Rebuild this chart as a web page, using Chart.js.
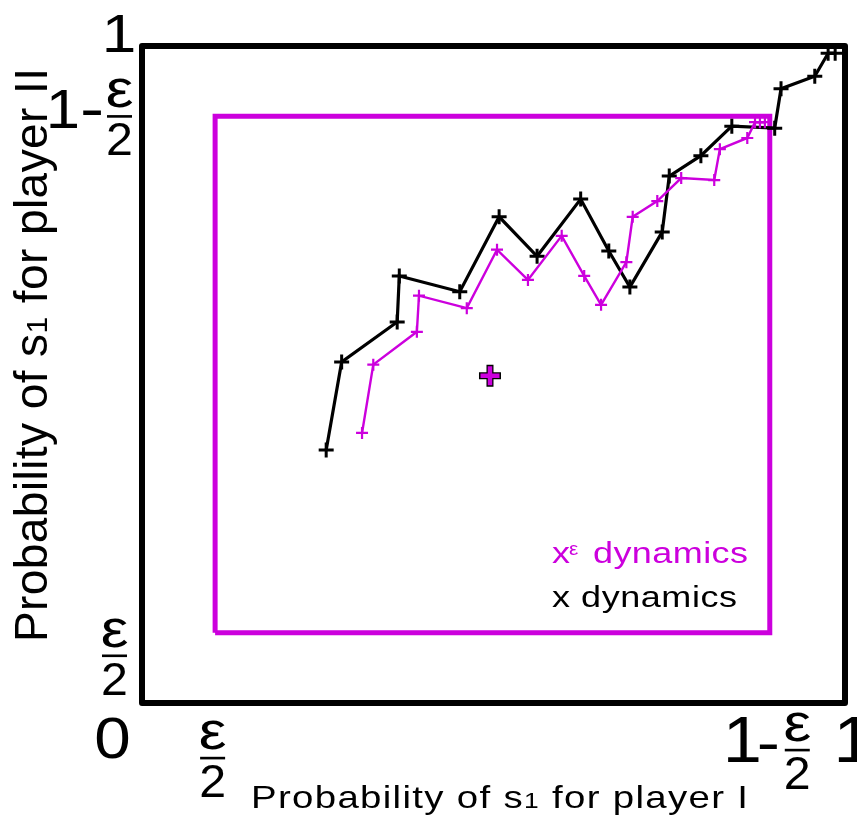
<!DOCTYPE html>
<html>
<head>
<meta charset="utf-8">
<script src="https://cdn.jsdelivr.net/npm/chart.js@4/dist/chart.umd.min.js"></script>
<style>
  html, body { margin: 0; padding: 0; background: #fff; }
  #wrap { width: 857px; height: 833px; }
</style>
</head>
<body>
<div id="wrap"><canvas id="chart" width="857" height="833"></canvas></div>
<script>
// x dynamics (black)
const xDynX = [0.262, 0.284, 0.363, 0.366, 0.452, 0.508, 0.562, 0.624, 0.664, 0.694,
               0.740, 0.750, 0.795, 0.839, 0.900, 0.909, 0.957, 0.976, 0.986];
const xDynY = [0.385, 0.519, 0.580, 0.650, 0.626, 0.740, 0.680, 0.767, 0.688, 0.633,
               0.717, 0.802, 0.833, 0.878, 0.875, 0.935, 0.954, 0.989, 0.989];

// x^eps dynamics (magenta)
const xEpsX = [0.313, 0.329, 0.391, 0.394, 0.462, 0.505, 0.549, 0.597, 0.629, 0.653,
               0.689, 0.698, 0.733, 0.767, 0.814, 0.822, 0.861, 0.872, 0.879, 0.886];
const xEpsY = [0.411, 0.515, 0.565, 0.620, 0.601, 0.690, 0.644, 0.711, 0.650, 0.606,
               0.671, 0.740, 0.764, 0.799, 0.796, 0.843, 0.860, 0.884, 0.884, 0.884];

// rest point
const restX = [0.495];
const restY = [0.498];

// boundaries: the simplex [0,1]^2 and the eps/2 box
const outerBoxX = [0, 1, 1, 0, 0];
const outerBoxY = [0, 0, 1, 1, 0];
const innerBoxX = [0.104, 0.893, 0.893, 0.104, 0.104];
const innerBoxY = [0.107, 0.107, 0.893, 0.893, 0.107];

// tick values (labels: 0, eps/2, 1-eps/2, 1)
const xTicks = [0, 0.104, 0.893, 1];
const yTicks = [0, 0.107, 0.893, 1];

const legendLabels = ['x dynamics', 'x', 'ε', 'dynamics'];
const xTitle = ['Probability of s', '1', ' for player I'];
const yTitle = ['Probability of s', '1', ' for player II'];

const MAGENTA = '#cc00dd';
const FONT = '"Liberation Sans", Arial, sans-serif';

const pts = (xs, ys) => xs.map((x, i) => ({ x: x, y: ys[i] }));

// single string, horizontal stretch sx, baseline at y
function txt(ctx, s, x, y, size, sx, align) {
    ctx.save();
    ctx.font = size + 'px ' + FONT;
    ctx.textAlign = align || 'center';
    ctx.translate(x, y);
    ctx.scale(sx, 1);
    ctx.fillText(s, 0, 0);
    ctx.restore();
}

// eps over 2 stacked fraction, bar at barY
function frac(ctx, cx, barY) {
    txt(ctx, 'ε', cx, barY - 9, 54, 1.15);
    ctx.fillRect(cx - 12.5, barY - 1.2, 25, 2.6);
    txt(ctx, '2', cx, barY + 39, 46, 1.05);
}

// runs of text drawn char by char (stretch sx), spacing chosen to fill len
function spaced(ctx, parts, sizes, x, y, len, sx) {
    const chars = [];
    let w = 0;
    parts.forEach((p, i) => {
        ctx.font = sizes[i] + 'px ' + FONT;
        for (const ch of p) {
            const cw = ctx.measureText(ch).width * sx;
            chars.push({ ch, cw, size: sizes[i] });
            w += cw;
        }
    });
    const ls = chars.length > 1 ? (len - w) / (chars.length - 1) : 0;
    let cur = x;
    chars.forEach(c => {
        txt(ctx, c.ch, cur, y, c.size, sx, 'left');
        cur += c.cw + ls;
    });
}

const figText = {
    id: 'figText',
    afterDatasetsDraw(chart) {
        const ctx = chart.ctx;
        const xs = chart.scales.x, ys = chart.scales.y;
        ctx.save();
        ctx.fillStyle = '#000';
        ctx.textBaseline = 'alphabetic';

        // y ticks
        const y1 = ys.getPixelForValue(yTicks[3]);
        txt(ctx, '1', 119, y1 + 6, 54, 1.15);
        const yHi = ys.getPixelForValue(yTicks[2]);
        txt(ctx, '1', 63, yHi + 12, 56, 1.1);
        txt(ctx, '-', 92, yHi + 12, 58, 1.25);
        frac(ctx, 119.5, yHi);
        const yLo = ys.getPixelForValue(yTicks[1]);
        frac(ctx, 114.5, yLo + 23);
        const y0 = ys.getPixelForValue(yTicks[0]);
        txt(ctx, '0', 112.5, y0 + 55, 57, 1.15);

        // x ticks
        const xLo = xs.getPixelForValue(xTicks[1]);
        frac(ctx, xLo - 2.5, 758);
        const xHi = xs.getPixelForValue(xTicks[2]);
        txt(ctx, '1', xHi - 27.5, 762, 64, 1.1);
        txt(ctx, '-', xHi - 1.5, 762, 58, 1.2);
        frac(ctx, xHi + 27.5, 750);
        const x1 = xs.getPixelForValue(xTicks[3]);
        txt(ctx, '1', x1 + 8, 762, 64, 1.1);

        // axis titles
        spaced(ctx, xTitle, [32, 22, 32], 251, 808, 497, 1.2);
        ctx.save();
        ctx.translate(47, 642);
        ctx.rotate(-Math.PI / 2);
        spaced(ctx, yTitle, [46, 30, 46], 0, 0, 574, 1);
        ctx.restore();

        // legend text
        spaced(ctx, [legendLabels[0]], [30], 552, 607, 185, 1.2);
        ctx.fillStyle = MAGENTA;
        txt(ctx, legendLabels[1], 552, 563, 30, 1.2, 'left');
        txt(ctx, legendLabels[2], 569, 555, 19, 1.1, 'left');
        spaced(ctx, [legendLabels[3]], [30], 593, 563, 155, 1.2);
        ctx.restore();
    }
};

const ctx = document.getElementById('chart').getContext('2d');
new Chart(ctx, {
    type: 'scatter',
    data: {
        datasets: [
            { data: pts(restX, restY), pointStyle: 'cross', pointRadius: 9.5, pointBorderWidth: 4.5,
              pointBorderColor: MAGENTA, showLine: false, clip: false },
            { data: pts(restX, restY), pointStyle: 'cross', pointRadius: 11, pointBorderWidth: 7,
              pointBorderColor: '#000', showLine: false, clip: false },
            { data: pts(xEpsX, xEpsY), showLine: true, borderColor: MAGENTA, borderWidth: 2.4,
              pointStyle: 'cross', pointRadius: 6, pointBorderWidth: 2.2, pointBorderColor: MAGENTA,
              fill: false, clip: false },
            { data: pts(xDynX, xDynY), showLine: true, borderColor: '#000', borderWidth: 3.2,
              pointStyle: 'cross', pointRadius: 7.5, pointBorderWidth: 3, pointBorderColor: '#000',
              fill: false, clip: false },
            { data: pts(innerBoxX, innerBoxY), showLine: true, borderColor: MAGENTA, borderWidth: 5,
              pointRadius: 0, fill: false, clip: false },
            { data: pts(outerBoxX, outerBoxY), showLine: true, borderColor: '#000', borderWidth: 6,
              borderJoinStyle: 'round', pointRadius: 0, fill: false, clip: false }
        ]
    },
    options: {
        responsive: false,
        devicePixelRatio: 1,
        animation: false,
        events: [],
        layout: { autoPadding: false, padding: { left: 142, right: 12, top: 46, bottom: 130 } },
        scales: {
            x: { type: 'linear', min: 0, max: 1, display: false },
            y: { type: 'linear', min: 0, max: 1, display: false }
        },
        plugins: {
            legend: { display: false },
            tooltip: { enabled: false },
            title: { display: false }
        }
    },
    plugins: [figText]
});
</script>
</body>
</html>
